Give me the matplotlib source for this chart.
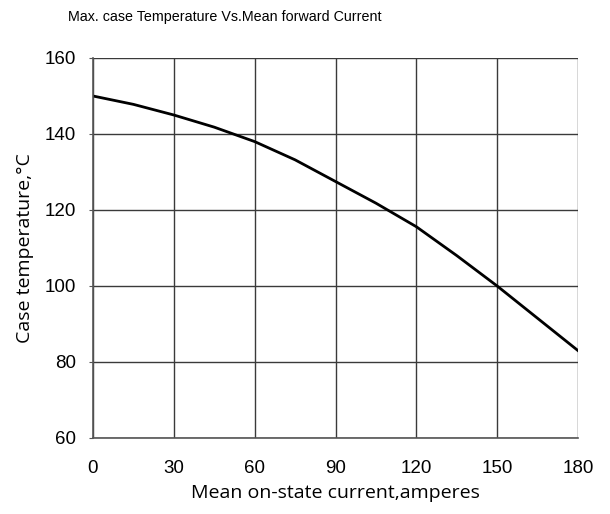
import matplotlib
matplotlib.use("Agg")
import matplotlib.pyplot as plt
from matplotlib import font_manager

# curve
current = [0, 15, 30, 45, 60, 75, 90, 105, 120, 135, 150, 165, 180]
temperature = [150, 147.8, 145, 141.8, 138, 133.2, 127.5, 121.8, 115.6, 108, 100, 91.5, 83]

x_ticks = [0, 30, 60, 90, 120, 150, 180]
y_ticks = [60, 80, 100, 120, 140, 160]

names = {f.name for f in font_manager.fontManager.ttflist}
narrow = "Liberation Sans Narrow" if "Liberation Sans Narrow" in names else "Liberation Sans"
title_size = 12.5 if narrow == "Liberation Sans Narrow" else 10.3
plt.rcParams['font.family'] = ['Liberation Sans', 'DejaVu Sans']

fig = plt.figure(figsize=(6.10, 5.14), dpi=100)
ax = fig.add_axes([93 / 610, 1 - 438 / 514, (578 - 93) / 610, (438 - 58) / 514])

ax.plot(current, temperature, color='black', linewidth=2)

ax.set_xlim(0, 180)
ax.set_ylim(60, 160)
ax.set_xticks(x_ticks)
ax.set_yticks(y_ticks)
ax.grid(True, color='#3a3a3a', linewidth=1)
ax.set_axisbelow(True)
for side in ['top', 'right']:
    ax.spines[side].set_visible(False)
for side in ['left', 'bottom']:
    ax.spines[side].set_color('#555555')
    ax.spines[side].set_linewidth(1.2)

ax.tick_params(axis='x', length=0, pad=16, labelsize=13.5)
ax.tick_params(axis='y', length=3, direction='out', pad=9.5, labelsize=13.5, color='#555555')

lab_font = ['Open Sans', 'DejaVu Sans']
ax.set_xlabel('Mean on-state current,amperes', fontsize=14, family=lab_font, va='center')
ax.set_ylabel('Case temperature,°C', fontsize=14, family=lab_font, va='center')
ax.xaxis.set_label_coords(0.5, -0.145)
ax.yaxis.set_label_coords(-0.14, 0.5)

fig.text(68 / 610, 1 - 17 / 514, 'Max. case Temperature Vs.Mean forward Current',
         fontsize=title_size, family=narrow, ha='left', va='center')

fig.savefig('out.png', dpi=100)
